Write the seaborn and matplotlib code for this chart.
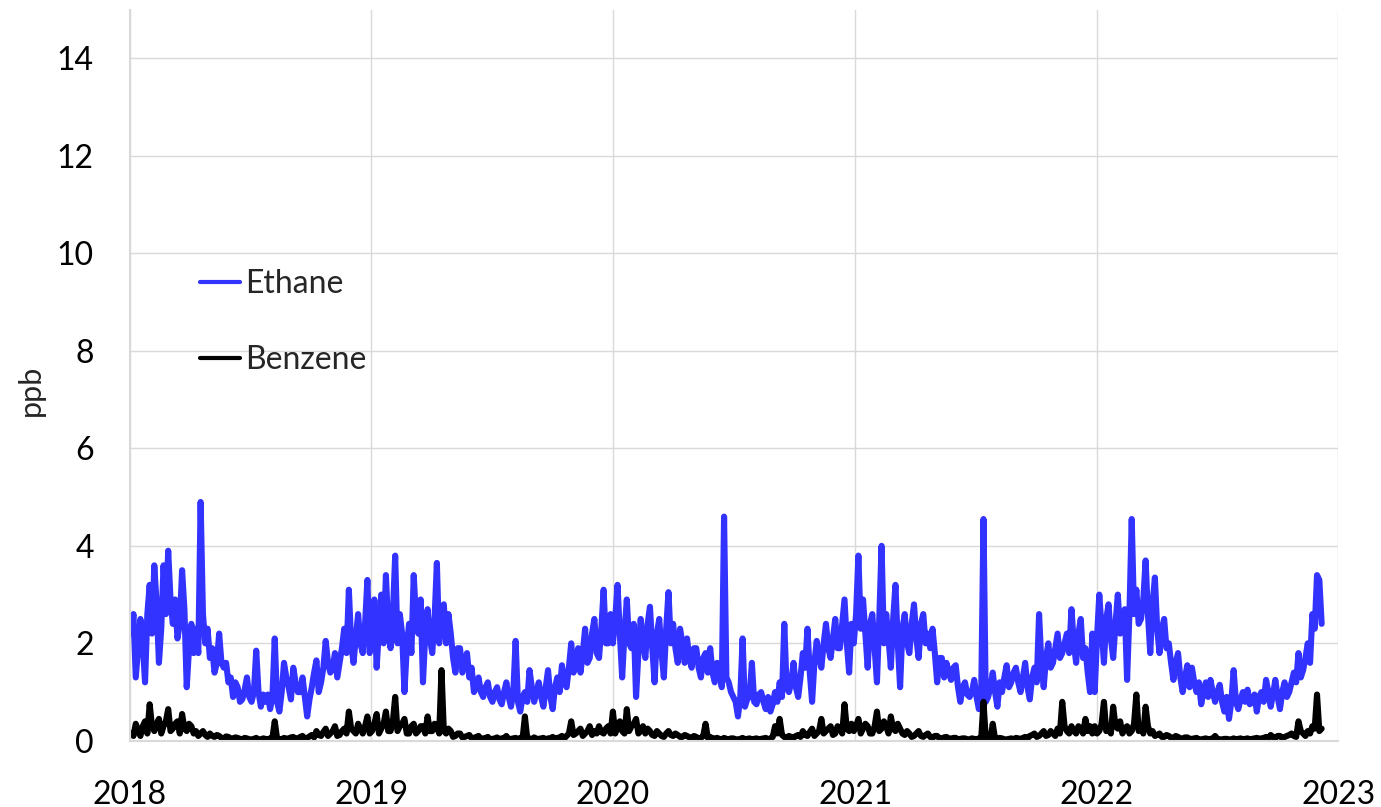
#!/usr/bin/env python3
"""
Ethane and benzene mixing ratios, twice-weekly readings 2018-2022.
"""

import pandas as pd
import matplotlib
matplotlib.use("Agg")
import matplotlib.pyplot as plt
import seaborn as sns

# Values (ppb). Each week has a start reading and a
# mid-week reading; series starts early Jan 2018.
first_reading = "2018-01-03"

ethane_2018 = [2.2, 1.3, 2.5, 1.2, 3.2, 3.6, 1.6, 3.6, 3.9, 2.4, 2.1, 3.5, 1.1,
               2.4, 2.3, 4.9, 2.0, 1.7, 1.4, 2.2, 1.5, 1.2, 0.9, 1.1, 0.85, 1.3,
               0.8, 1.85, 0.7, 0.8, 0.65, 2.1, 0.6, 1.6, 1.1, 1.5, 1.0, 1.3, 0.5,
               1.1, 1.65, 1.2, 2.05, 1.4, 1.8, 1.6, 2.3, 3.1, 1.6, 2.6, 1.8, 3.3]
ethane_2018_mid = [2.6, 1.9, 2.0, 2.6, 2.2, 2.8, 2.3, 2.6, 2.9, 2.9, 2.4, 2.7, 1.9,
                   1.8, 1.8, 2.6, 2.3, 1.9, 1.6, 1.6, 1.6, 1.3, 1.2, 0.8, 1.05, 0.9,
                   1.0, 1.0, 0.95, 0.95, 0.9, 0.8, 1.0, 1.3, 0.85, 1.2, 1.0, 0.9, 0.85,
                   1.4, 1.0, 1.5, 1.6, 1.5, 1.3, 1.9, 1.8, 2.0, 2.1, 2.0, 2.4, 1.8]
ethane_2019 = [2.4, 1.5, 3.0, 3.4, 1.9, 3.8, 2.6, 1.0, 2.4, 3.4, 2.2, 1.2, 2.7,
               1.8, 3.65, 2.6, 2.0, 2.2, 1.4, 1.9, 1.6, 1.3, 1.0, 1.3, 0.9, 1.2,
               0.8, 1.1, 0.75, 1.2, 0.7, 2.05, 0.6, 1.0, 1.45, 0.8, 1.2, 0.7, 1.45,
               0.65, 1.3, 1.55, 1.1, 2.0, 1.6, 1.4, 2.3, 1.7, 2.5, 1.7, 3.1, 2.0]
ethane_2019_mid = [2.9, 2.3, 2.0, 2.3, 2.6, 2.0, 2.2, 1.9, 1.8, 2.5, 2.9, 2.2, 2.1,
                   2.5, 2.0, 2.8, 2.6, 1.7, 1.9, 1.4, 1.8, 1.5, 1.1, 1.0, 1.1, 0.9,
                   1.0, 0.85, 1.0, 0.9, 1.0, 0.8, 0.9, 0.8, 1.1, 1.0, 0.9, 1.1, 0.9,
                   1.1, 1.0, 1.2, 1.5, 1.4, 1.9, 1.8, 1.6, 2.2, 1.8, 2.3, 2.0, 2.6]
ethane_2020 = [2.0, 3.2, 1.3, 2.9, 1.9, 0.9, 2.5, 1.7, 2.75, 1.2, 2.5, 1.3, 3.05,
               2.4, 1.6, 2.0, 2.1, 1.5, 1.9, 1.3, 1.8, 1.9, 1.2, 1.5, 4.6, 1.2,
               0.9, 0.5, 2.1, 0.85, 1.6, 0.75, 1.0, 0.65, 0.6, 1.0, 1.2, 2.4, 1.0,
               1.6, 0.9, 1.8, 2.3, 0.8, 2.05, 1.5, 2.4, 1.7, 2.5, 1.9, 2.9, 1.4]
ethane_2020_mid = [2.5, 2.2, 2.2, 2.0, 2.4, 1.8, 2.0, 2.4, 1.9, 2.2, 1.8, 2.3, 2.0,
                   1.9, 2.3, 1.6, 1.7, 1.9, 1.5, 1.7, 1.4, 1.4, 1.6, 1.1, 1.3, 1.0,
                   0.8, 0.9, 0.7, 0.9, 0.8, 0.95, 0.8, 0.9, 0.75, 0.8, 0.9, 1.1, 1.2,
                   1.1, 1.3, 1.5, 1.4, 1.6, 1.7, 2.0, 1.9, 2.1, 1.9, 2.4, 2.0, 2.4]
ethane_2021 = [2.0, 3.8, 2.9, 1.5, 2.6, 1.2, 4.0, 2.6, 1.5, 3.2, 1.1, 2.6, 1.8,
               2.8, 1.7, 2.6, 2.2, 2.3, 1.2, 1.7, 1.6, 1.25, 1.55, 0.8, 1.2, 0.9,
               1.25, 0.65, 4.55, 0.9, 1.4, 0.7, 1.0, 1.55, 1.2, 1.5, 1.0, 1.6, 0.85,
               1.5, 2.6, 1.1, 2.0, 1.6, 2.2, 1.8, 2.2, 2.7, 1.6, 2.5, 1.9, 1.0]
ethane_2021_mid = [2.6, 2.3, 2.2, 2.4, 1.9, 2.5, 2.0, 2.1, 2.5, 2.0, 2.3, 2.0, 2.4,
                   2.1, 2.4, 2.0, 1.9, 1.8, 1.7, 1.3, 1.4, 1.5, 1.1, 1.1, 0.95, 1.0,
                   0.9, 0.9, 0.8, 1.1, 1.0, 1.2, 1.3, 1.1, 1.4, 1.2, 1.3, 1.1, 1.3,
                   1.2, 1.6, 1.7, 1.5, 1.9, 1.7, 2.0, 1.8, 2.0, 2.2, 1.7, 1.4, 2.2]
ethane_2022 = [1.0, 3.0, 1.6, 2.8, 1.7, 3.0, 2.5, 1.25, 4.55, 3.1, 2.5, 3.7, 1.8,
               3.35, 1.8, 2.5, 2.0, 1.25, 1.8, 1.0, 1.55, 1.5, 1.0, 0.75, 1.2, 1.25,
               0.8, 1.15, 0.6, 0.45, 1.45, 0.65, 1.0, 1.05, 0.8, 0.6, 1.0, 1.25, 0.7,
               1.25, 0.65, 1.2, 1.0, 1.4, 1.8, 1.45, 2.0, 2.6, 3.4, 2.4]
ethane_2022_mid = [2.1, 2.3, 2.5, 2.1, 2.4, 2.2, 2.7, 2.6, 2.6, 2.4, 2.9, 2.6, 2.8,
                   2.3, 2.3, 1.9, 1.6, 1.6, 1.3, 1.3, 1.1, 1.2, 1.2, 1.0, 0.9, 1.0,
                   1.0, 0.8, 0.9, 0.8, 0.8, 0.85, 0.8, 0.75, 0.95, 0.9, 0.8, 1.0, 0.95,
                   0.9, 1.0, 0.9, 1.2, 1.2, 1.3, 1.7, 1.6, 2.3, 3.3]

benzene_2018 = [0.15, 0.35, 0.1, 0.4, 0.75, 0.2, 0.45, 0.3, 0.65, 0.25, 0.4, 0.55, 0.2,
                0.3, 0.2, 0.15, 0.12, 0.15, 0.08, 0.1, 0.05, 0.08, 0.04, 0.06, 0.03, 0.05,
                0.03, 0.06, 0.02, 0.04, 0.05, 0.4, 0.04, 0.06, 0.05, 0.08, 0.05, 0.1, 0.06,
                0.12, 0.2, 0.1, 0.25, 0.15, 0.3, 0.12, 0.25, 0.6, 0.2, 0.35, 0.15, 0.5]
benzene_2018_mid = [0.1, 0.2, 0.3, 0.15, 0.3, 0.35, 0.15, 0.4, 0.2, 0.35, 0.15, 0.25, 0.35,
                    0.15, 0.1, 0.2, 0.08, 0.1, 0.12, 0.06, 0.09, 0.05, 0.07, 0.04, 0.06, 0.03,
                    0.04, 0.03, 0.05, 0.03, 0.06, 0.05, 0.03, 0.04, 0.07, 0.04, 0.08, 0.04, 0.09,
                    0.07, 0.12, 0.18, 0.1, 0.2, 0.1, 0.2, 0.15, 0.25, 0.15, 0.25, 0.3, 0.15]
benzene_2019 = [0.2, 0.55, 0.25, 0.6, 0.2, 0.9, 0.3, 0.45, 0.15, 0.35, 0.2, 0.3, 0.5,
                0.2, 0.3, 1.45, 0.15, 0.2, 0.1, 0.15, 0.08, 0.12, 0.06, 0.1, 0.05, 0.08,
                0.04, 0.07, 0.05, 0.1, 0.04, 0.06, 0.06, 0.5, 0.05, 0.07, 0.04, 0.06, 0.05,
                0.08, 0.06, 0.1, 0.1, 0.4, 0.15, 0.25, 0.15, 0.3, 0.2, 0.3, 0.15, 0.3]
benzene_2019_mid = [0.35, 0.15, 0.35, 0.2, 0.4, 0.2, 0.35, 0.15, 0.3, 0.15, 0.3, 0.15, 0.2,
                    0.35, 0.15, 0.2, 0.25, 0.08, 0.15, 0.07, 0.1, 0.05, 0.08, 0.04, 0.06, 0.03,
                    0.05, 0.03, 0.06, 0.03, 0.05, 0.03, 0.04, 0.06, 0.03, 0.04, 0.05, 0.03, 0.05,
                    0.04, 0.07, 0.05, 0.15, 0.12, 0.2, 0.1, 0.2, 0.12, 0.15, 0.18, 0.25, 0.15]
benzene_2020 = [0.6, 0.3, 0.2, 0.65, 0.3, 0.45, 0.2, 0.15, 0.2, 0.1, 0.15, 0.08, 0.2,
                0.1, 0.12, 0.08, 0.1, 0.06, 0.08, 0.06, 0.35, 0.08, 0.05, 0.04, 0.06, 0.03,
                0.05, 0.03, 0.06, 0.04, 0.03, 0.05, 0.04, 0.06, 0.05, 0.3, 0.45, 0.08, 0.1,
                0.06, 0.12, 0.2, 0.1, 0.25, 0.15, 0.45, 0.2, 0.3, 0.15, 0.25, 0.75, 0.2]
benzene_2020_mid = [0.15, 0.4, 0.15, 0.2, 0.35, 0.15, 0.3, 0.25, 0.12, 0.2, 0.1, 0.15, 0.12,
                    0.15, 0.08, 0.12, 0.07, 0.1, 0.05, 0.1, 0.06, 0.05, 0.06, 0.03, 0.04, 0.05,
                    0.03, 0.04, 0.03, 0.05, 0.04, 0.03, 0.05, 0.03, 0.08, 0.15, 0.12, 0.05, 0.08,
                    0.1, 0.08, 0.12, 0.18, 0.1, 0.2, 0.15, 0.25, 0.12, 0.3, 0.15, 0.25, 0.35]
benzene_2021 = [0.2, 0.45, 0.25, 0.3, 0.15, 0.6, 0.25, 0.3, 0.5, 0.2, 0.25, 0.12, 0.15,
                0.1, 0.2, 0.08, 0.15, 0.06, 0.1, 0.05, 0.08, 0.04, 0.06, 0.04, 0.05, 0.03,
                0.04, 0.05, 0.8, 0.05, 0.35, 0.04, 0.05, 0.03, 0.05, 0.06, 0.04, 0.08, 0.1,
                0.15, 0.1, 0.2, 0.12, 0.15, 0.25, 0.8, 0.2, 0.3, 0.15, 0.25, 0.45, 0.3]
benzene_2021_mid = [0.3, 0.15, 0.35, 0.15, 0.3, 0.2, 0.4, 0.15, 0.25, 0.35, 0.15, 0.2, 0.08,
                    0.15, 0.1, 0.12, 0.08, 0.1, 0.05, 0.07, 0.05, 0.06, 0.03, 0.05, 0.03, 0.05,
                    0.03, 0.03, 0.04, 0.03, 0.04, 0.06, 0.03, 0.04, 0.03, 0.05, 0.06, 0.05, 0.12,
                    0.08, 0.15, 0.1, 0.2, 0.1, 0.15, 0.3, 0.15, 0.2, 0.3, 0.15, 0.2, 0.15]
benzene_2022 = [0.3, 0.2, 0.8, 0.3, 0.7, 0.25, 0.15, 0.3, 0.2, 0.95, 0.3, 0.7, 0.15,
                0.1, 0.15, 0.08, 0.1, 0.06, 0.08, 0.05, 0.07, 0.04, 0.06, 0.03, 0.05, 0.04,
                0.1, 0.03, 0.04, 0.03, 0.05, 0.04, 0.03, 0.05, 0.04, 0.06, 0.05, 0.08, 0.12,
                0.06, 0.1, 0.08, 0.12, 0.1, 0.4, 0.15, 0.2, 0.3, 0.95, 0.25]
benzene_2022_mid = [0.15, 0.35, 0.2, 0.15, 0.3, 0.4, 0.25, 0.15, 0.35, 0.2, 0.15, 0.3, 0.2,
                    0.12, 0.08, 0.12, 0.06, 0.1, 0.04, 0.07, 0.04, 0.05, 0.03, 0.04, 0.03, 0.05,
                    0.04, 0.03, 0.04, 0.03, 0.03, 0.05, 0.04, 0.03, 0.05, 0.04, 0.06, 0.05, 0.08,
                    0.1, 0.05, 0.1, 0.15, 0.08, 0.2, 0.1, 0.15, 0.25, 0.2]

year_ticks = ["2018", "2019", "2020", "2021", "2022", "2023"]
y_ticks = [0, 2, 4, 6, 8, 10, 12, 14]


def interleave(weeks, mids):
    out = []
    for i, w in enumerate(weeks):
        out.append(w)
        if i < len(mids):
            out.append(mids[i])
    return out


ethane = (interleave(ethane_2018, ethane_2018_mid) + interleave(ethane_2019, ethane_2019_mid)
          + interleave(ethane_2020, ethane_2020_mid) + interleave(ethane_2021, ethane_2021_mid)
          + interleave(ethane_2022, ethane_2022_mid))
benzene = (interleave(benzene_2018, benzene_2018_mid) + interleave(benzene_2019, benzene_2019_mid)
           + interleave(benzene_2020, benzene_2020_mid) + interleave(benzene_2021, benzene_2021_mid)
           + interleave(benzene_2022, benzene_2022_mid))
dates = pd.date_range(first_reading, periods=len(ethane), freq="84h")

df = pd.concat([
    pd.DataFrame({"date": dates, "ppb": ethane, "species": "Ethane"}),
    pd.DataFrame({"date": dates, "ppb": benzene, "species": "Benzene"}),
])

# Style
sns.set_style("whitegrid", {"grid.color": "#D9D9D9", "axes.edgecolor": "#D9D9D9"})
plt.rcParams["font.family"] = ["Lato", "DejaVu Sans"]

fig = plt.figure(figsize=(13.81, 8.07), dpi=100)
ax = fig.add_axes([0.094, 0.082, 0.875, 0.906])

sns.lineplot(data=df, x="date", y="ppb", hue="species",
             palette={"Ethane": "#3333FF", "Benzene": "black"},
             linewidth=4.4, ax=ax)

ax.set_xlim(pd.Timestamp("2018-01-01"), pd.Timestamp("2023-01-01"))
ax.set_ylim(0, 15)
ax.set_xticks([pd.Timestamp(y + "-01-01") for y in year_ticks])
ax.set_xticklabels(year_ticks)
ax.set_yticks(y_ticks)
ax.tick_params(axis="both", length=0, labelsize=23, colors="black")
ax.tick_params(axis="x", pad=28)
ax.tick_params(axis="y", pad=26)
ax.grid(True, linewidth=1.0)
for side in ["top", "right"]:
    ax.spines[side].set_visible(False)
for side in ["left", "bottom"]:
    ax.spines[side].set_linewidth(1.5)

ax.set_xlabel("")
ax.set_ylabel("ppb", fontsize=22)
ax.yaxis.set_label_coords(-0.07, 0.48)

handles, labels = ax.get_legend_handles_labels()
leg = ax.legend(handles, labels, loc="upper left", bbox_to_anchor=(0.1448, 0.667),
                bbox_transform=fig.transFigure, frameon=False, fontsize=23,
                handlelength=1.25, handletextpad=0.15, labelspacing=1.45,
                borderpad=0, borderaxespad=0)
for line in leg.get_lines():
    line.set_linewidth(3.0)

fig.savefig("out.png", dpi=100)
